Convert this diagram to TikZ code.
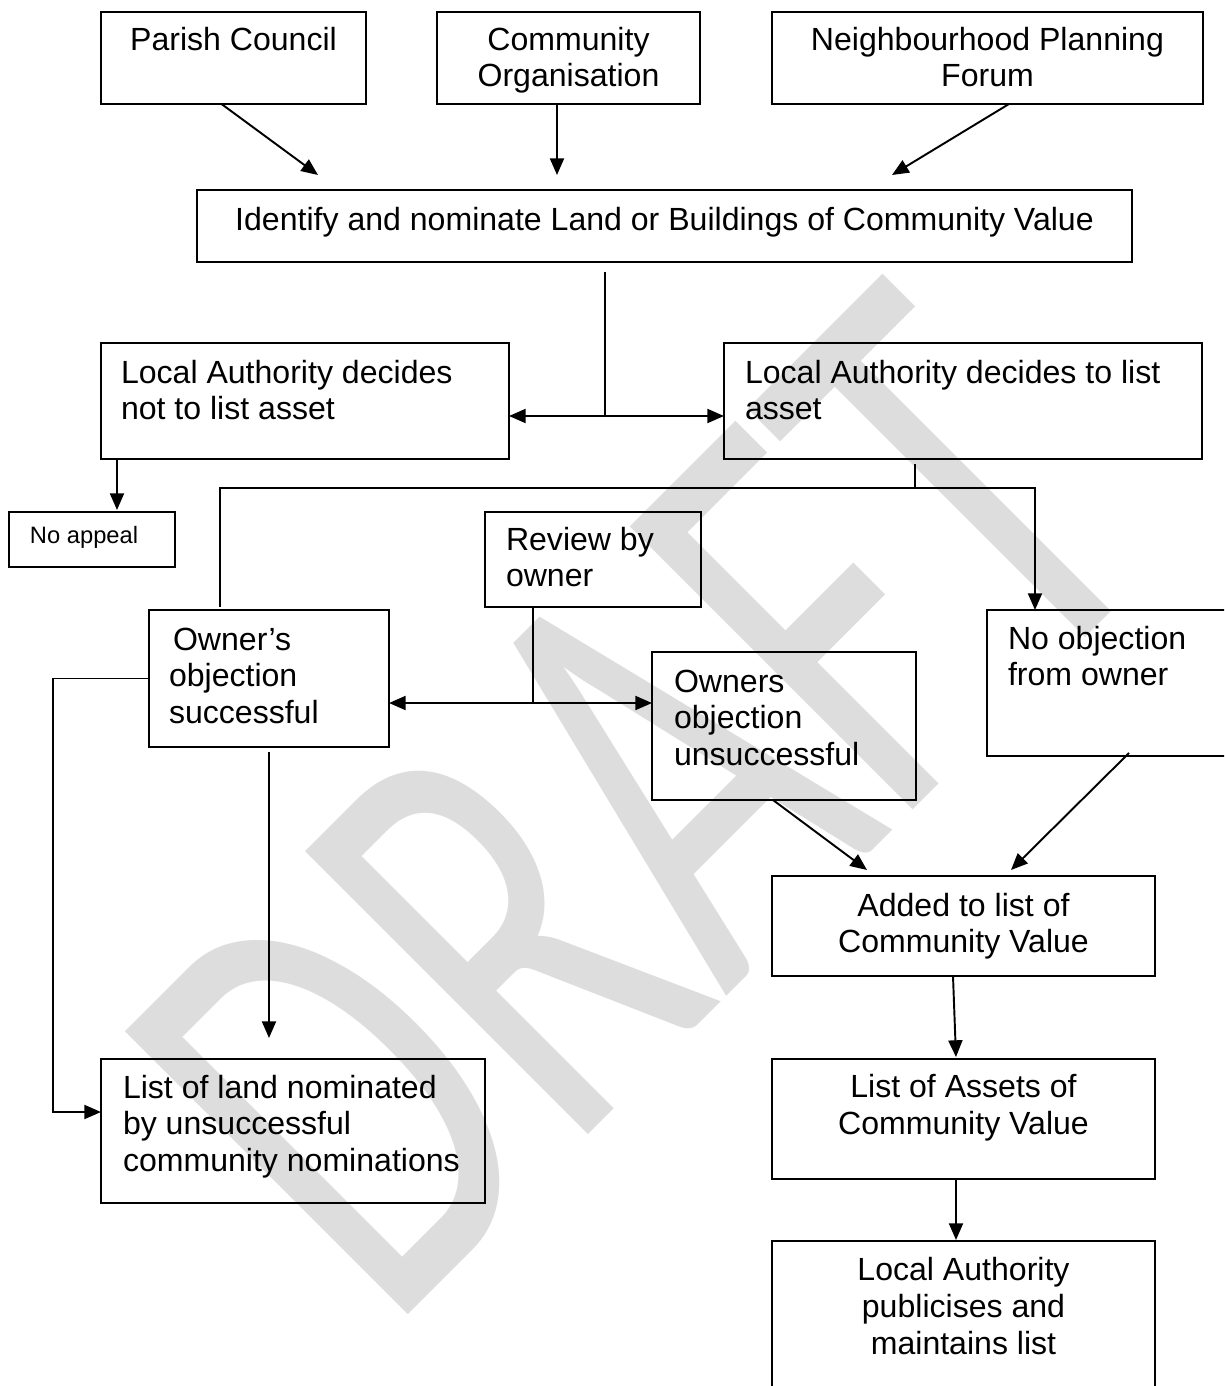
\documentclass[tikz,border=0pt]{standalone}
\usepackage{fontspec}
\setmainfont{Liberation Sans}
\newfontfamily\wmfont{Carlito}
\usetikzlibrary{arrows.meta,calc,positioning}
\definecolor{wmgrey}{RGB}{221,221,221}
\newlength\pxu
\setlength\pxu{0.02cm}
% centred and left set box texts: width, height, first baseline (, left pad), text
\newcommand\ctext[4]{\parbox[c][#2\pxu][t]{#1\pxu}{\leftskip=-3cm plus 1fil\rightskip=-3cm plus 1fil\parfillskip=0pt\let\\\par
  \vspace*{\dimexpr#3\pxu-\ht\strutbox\relax}\strut#4}}
\newcommand\ltext[5]{\parbox[c][#2\pxu][t]{#1\pxu}{\leftskip=#4\pxu\rightskip=-5cm plus 1fil\let\\\par
  \vspace*{\dimexpr#3\pxu-\ht\strutbox\relax}\strut#5}}

\begin{document}
\begin{tikzpicture}[x=0.02cm, y=-0.02cm,
    box/.style={draw, line width=1.3pt, inner sep=0pt, outer sep=0pt, anchor=north west},
    ln/.style={line width=1.1pt},
    arr/.style={ln, -{Triangle[length=9.5pt,width=8pt]}},
    arrs/.style={ln, {Triangle[length=9.5pt,width=8pt]}-{Triangle[length=9.5pt,width=8pt]}},
    font=\fontsize{18.25}{21}\selectfont]
  \clip (0,0) rectangle (1224,1386);
  \node[anchor=base west, inner sep=0pt, rotate=45, xscale=0.66, transform shape,
    text=wmgrey, font=\wmfont\fontsize{355}{355}\selectfont] (wm) at (388,1335) {DRAFT};

  % who nominates
  \node[box] (pc) at (101,12) {\ctext{265}{92}{38}{Parish Council}};
  \node[box, right=1.42cm of pc] (co) {\ctext{263}{92}{38}{Community\\Organisation}};
  \node[box, right=1.44cm of co] (npf) {\ctext{431}{92}{38}{Neighbourhood Planning\\Forum}};
  \node[box] (idv) at (197,190) {\ctext{935}{72}{40}{Identify and nominate Land or Buildings of Community Value}};

  % decision
  \node[box] (notlist) at (101,343) {\ltext{408}{116}{40}{20}{Local Authority decides\\not to list asset}};
  \node[box] (list) at (724,343) {\ltext{478}{116}{40}{21}{Local Authority decides to list\\asset}};
  \node[box] (noap) at (9,512) {\ltext{166}{55}{31}{21}{\fontsize{13.5}{16}\selectfont No appeal}};
  \node[box] (review) at (485,512) {\ltext{216}{95}{38}{21}{Review by\\owner}};
  \node[box] (succ) at (149,610) {\ltext{240}{137}{40}{20}{\hspace*{4\pxu}Owner’s\\objection\\successful}};
  \node[box] (unsucc) at (652,652) {\ltext{264}{148}{40}{22}{Owners\\objection\\unsuccessful}};
  \node[box] (noobj) at (987,610) {\ltext{300}{146}{39}{21}{No objection\\from owner}};

  % lists
  \node[box] (added) at (772,876) {\ctext{383}{100}{40}{Added to list of\\Community Value}};
  \node[box, below=1.66cm of added] (assets) {\ctext{383}{120}{39}{List of Assets of\\Community Value}};
  \node[box, below=1.24cm of assets] (publ) {\ctext{383}{200}{40}{Local Authority\\publicises and\\maintains list}};
  \node[box] (landlist) at (101,1059) {\ltext{384}{144}{39}{22}{List of land nominated\\by unsuccessful\\community nominations}};

  \draw[arr] ($(pc.south)+(-12,0)$) -- ($(idv.north west)+(121,-15)$);
  \draw[arr] ($(co.south)+(-11.5,0)$) -- ($(idv.north west)+(360,-15)$);
  \draw[arr] ($(npf.south)+(21.5,0)$) -- ($(idv.north west)+(695,-15)$);

  \coordinate (sp1) at (605,416);
  \draw[ln] ($(idv.south)+(-59.5,10)$) -- (sp1);
  \draw[arrs] (sp1 -| notlist.east) -- (sp1 -| list.west);
  \draw[arr] ($(notlist.south west)+(16,0)$) -- ($(noap.north west)+(108,-2)$);

  \coordinate (sp2) at (915,488);
  \draw[ln] ($(list.south)+(-48,5)$) -- (sp2);
  \draw[ln] ($(succ.north west)+(71,-3)$) |- (sp2);
  \draw[arr] (sp2) -| ($(noobj.north west)+(48,0)$);

  \coordinate (sp3) at (533,703);
  \draw[ln] ($(review.south west)+(48,0)$) -- (sp3);
  \draw[arrs] (sp3 -| succ.east) -- (sp3 -| unsucc.west);

  \draw[arr] (succ.west) -- ++(-96,0) |- ($(landlist.north west)+(0,53)$);
  \draw[arr] ($(succ.south)+(0,5)$) -- ($(landlist.north west)+(168,-21)$);
  \draw[arr] ($(unsucc.south)+(-11,0)$) -- ($(added.north west)+(95,-6)$);
  \draw[arr] ($(noobj.south west)+(142,-3)$) -- ($(added.north west)+(239,-6)$);
  \draw[arr] ($(added.south)+(-10.5,0)$) -- ($(assets.north)+(-7.5,-2)$);
  \draw[arr] ($(assets.south)+(-7.5,0)$) -- ($(publ.north)+(-7.5,-1)$);
\end{tikzpicture}
\end{document}
